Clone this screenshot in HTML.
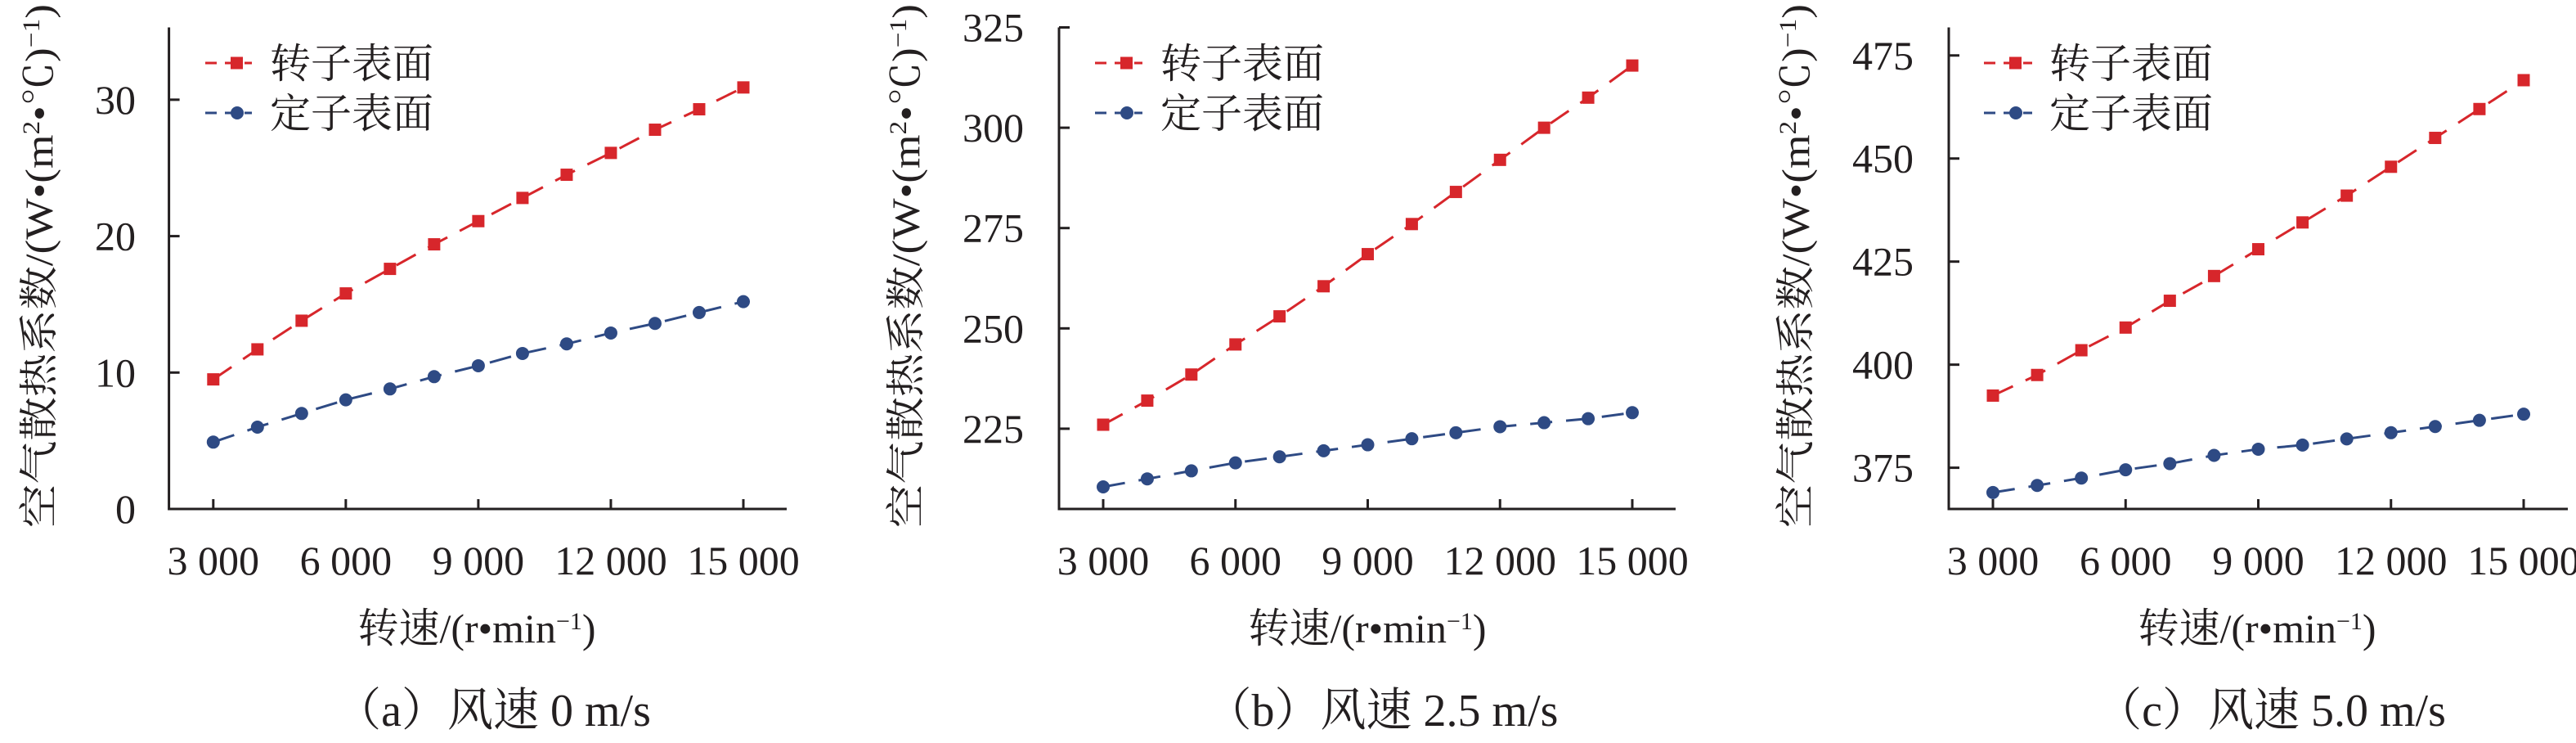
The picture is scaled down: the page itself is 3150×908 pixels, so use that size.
<!DOCTYPE html>
<html><head><meta charset="utf-8"><style>
html,body{margin:0;padding:0;background:#fff;width:3150px;height:908px;overflow:hidden}
</style></head><body>
<svg id="s" width="3150" height="908" viewBox="0 0 3150 908" xmlns="http://www.w3.org/2000/svg" font-family="'Liberation Serif','Times New Roman','Noto Serif CJK SC',serif" fill="#231f20"></svg>
<script>
const P=[
{ax:206.6,xr:962,x3:260.8,x15:909,ymin:0,ymax:35.3,yt:[0,10,20,30],lx:166,tx:47,leg:[251,308,330],xt:583,cap:603,c:"（a）风速 0 m/s",
r:[9.5,11.7,13.8,15.8,17.6,19.4,21.1,22.8,24.5,26.1,27.8,29.3,30.9],
s:[4.9,6.0,7.0,8.0,8.8,9.7,10.5,11.4,12.1,12.9,13.6,14.4,15.2]},
{ax:1295,xr:2049,x3:1349,x15:1996,ymin:205,ymax:325,yt:[225,250,275,300,325],lx:1252,tx:1107,leg:[1339,1397,1419],xt:1672,cap:1690,c:"（b）风速 2.5 m/s",
r:[226,232,238.5,246,253,260.5,268.5,276,284,292,300,307.5,315.5],
s:[210.5,212.5,214.5,216.5,218,219.5,221,222.5,224,225.5,226.5,227.5,229]},
{ax:2383,xr:3140,x3:2437,x15:3086,ymin:365,ymax:481.8,yt:[375,400,425,450,475],lx:2340,tx:2195,leg:[2426,2485,2506],xt:2760,cap:2777,c:"（c）风速 5.0 m/s",
r:[392.5,397.5,403.5,409,415.5,421.5,428,434.5,441,448,455,462,469],
s:[369,370.7,372.5,374.5,376,378,379.5,380.5,382,383.5,385,386.5,388]}];
const Y0=622,YT=33.5;
const F="font-family=\"Liberation Serif, Noto Serif CJK SC, serif\"";
let h="";
const RED="#d7262b",BLUE="#2e4a84";
for(const p of P){
 const yv=v=>Y0-(v-p.ymin)/(p.ymax-p.ymin)*(Y0-YT);
 const xv=k=>p.x3+(k-3000)/12000*(p.x15-p.x3);
 h+=`<path d="M${p.ax} ${YT}V${Y0}H${p.xr}" fill="none" stroke="#231f20" stroke-width="3"/>`;
 for(const t of p.yt){const y=yv(t);h+=`<line x1="${p.ax}" x2="${p.ax+13}" y1="${y}" y2="${y}" stroke="#231f20" stroke-width="3"/><text ${F} x="${p.lx}" y="${y+17}" font-size="50" text-anchor="end">${t}</text>`;}
 for(let k=3000;k<=15000;k+=3000){const x=xv(k);h+=`<line x1="${x}" x2="${x}" y1="${Y0}" y2="${Y0-12}" stroke="#231f20" stroke-width="3"/><text ${F} x="${x}" y="702" font-size="50" text-anchor="middle">${k/1000|0} 000</text>`;}
 const ser=(d,col,sq)=>{let pts=d.map((v,i)=>[xv(3000+i*1000),yv(v)]);
  h+=`<polyline points="${pts.map(q=>q.join(',')).join(' ')}" fill="none" stroke="${col}" stroke-width="3" stroke-dasharray="27 17"/>`;
  for(const [x,y] of pts) h+=sq?`<rect x="${x-7.5}" y="${y-7.5}" width="15" height="15" fill="${col}"/>`:`<circle cx="${x}" cy="${y}" r="8" fill="${col}"/>`;};
 ser(p.r,RED,1);ser(p.s,BLUE,0);
 const [l0,l1,lt]=p.leg;
 h+=`<line x1="${l0}" x2="${l1}" y1="77" y2="77" stroke="${RED}" stroke-width="3" stroke-dasharray="14 10"/><rect x="${l0+31}" y="69.5" width="15" height="15" fill="${RED}"/><text ${F} x="${lt}" y="95" font-size="50">转子表面</text>`;
 h+=`<line x1="${l0}" x2="${l1}" y1="138" y2="138" stroke="${BLUE}" stroke-width="3" stroke-dasharray="14 10"/><circle cx="${l0+39}" cy="138" r="8" fill="${BLUE}"/><text ${F} x="${lt}" y="156" font-size="50">定子表面</text>`;
 h+=`<text ${F} transform="translate(${p.tx+17},325) rotate(-90)" font-size="48" text-anchor="middle" textLength="640" lengthAdjust="spacingAndGlyphs">空气散热系数/(W•(m<tspan font-size="30" dy="-16">2</tspan><tspan dy="16">•℃)</tspan><tspan font-size="30" dy="-16">−1</tspan><tspan dy="16">)</tspan></text>`;
 h+=`<text ${F} x="${p.xt}" y="785" font-size="50" text-anchor="middle">转速/(r•min<tspan font-size="30" dy="-16">−1</tspan><tspan dy="16">)</tspan></text>`;
 h+=`<text ${F} x="${p.cap}" y="887" font-size="56" text-anchor="middle">${p.c}</text>`;
}
document.getElementById("s").innerHTML=h;
</script>
</body></html>
